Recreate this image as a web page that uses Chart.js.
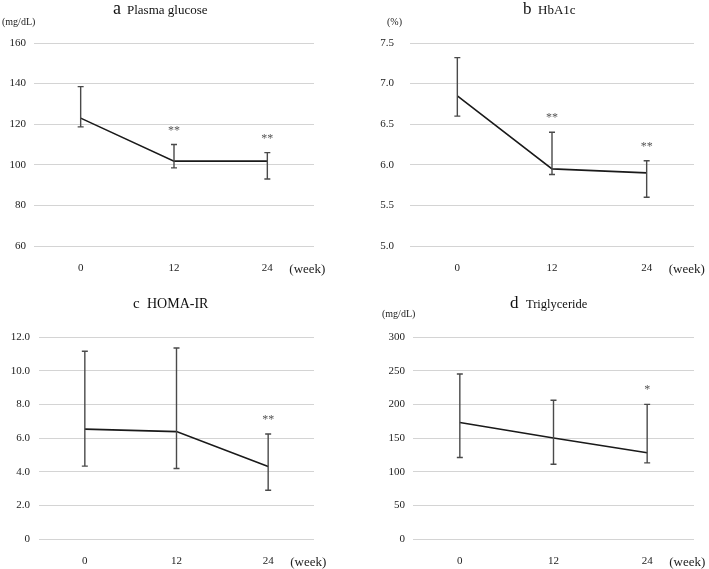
<!DOCTYPE html>
<html>
<head>
<meta charset="utf-8">
<script src="https://cdn.jsdelivr.net/npm/chart.js@4.4.1/dist/chart.umd.min.js"></script>
<style>
  body { margin: 0; background: #fff; }
  #wrap { position: relative; width: 709px; height: 569px; }
  canvas { position: absolute; }
</style>
</head>
<body>
<div id="wrap">
  <canvas id="cA" width="355" height="280" style="left:0;top:0"></canvas>
  <canvas id="cB" width="354" height="280" style="left:355px;top:0"></canvas>
  <canvas id="cC" width="355" height="289" style="left:0;top:280px"></canvas>
  <canvas id="cD" width="354" height="289" style="left:355px;top:280px"></canvas>
</div>
<script>
'use strict';

// weeks on the x axis
var weeks = ['0', '12', '24'];

// a Plasma glucose (mg/dL)
var glucoseMean = [123, 101.8, 101.8];
var glucoseUpper = [138.5, 110, 106];
var glucoseLower = [118.7, 98.5, 93];
var glucoseMarks = ['', '**', '**'];

// b HbA1c (%)
var hba1cMean = [6.85, 5.95, 5.90];
var hba1cUpper = [7.32, 6.40, 6.05];
var hba1cLower = [6.60, 5.88, 5.60];
var hba1cMarks = ['', '**', '**'];

// c HOMA-IR
var homaMean = [6.53, 6.38, 4.30];
var homaUpper = [11.15, 11.35, 6.24];
var homaLower = [4.33, 4.19, 2.90];
var homaMarks = ['', '', '**'];

// d Triglyceride (mg/dL)
var tgMean = [173, 150, 128];
var tgUpper = [245, 206, 200];
var tgLower = [121, 111, 113];
var tgMarks = ['', '', '*'];

var SERIF = '"Liberation Serif", "Times New Roman", serif';

// error bars, stars, titles and small labels
var panelPlugin = {
	id: 'panel',
	afterDatasetsDraw: function(chart, args, opts) {
		var ctx = chart.ctx, x = chart.scales.x, y = chart.scales.y;
		ctx.save();
		ctx.strokeStyle = '#4a4a4a';
		ctx.lineWidth = 1.4;
		opts.upper.forEach(function(u, i) {
			var px = x.getPixelForValue(i);
			var yt = y.getPixelForValue(u), yb = y.getPixelForValue(opts.lower[i]);
			ctx.beginPath();
			ctx.moveTo(px, yt); ctx.lineTo(px, yb);
			ctx.moveTo(px - 3, yt); ctx.lineTo(px + 3, yt);
			ctx.moveTo(px - 3, yb); ctx.lineTo(px + 3, yb);
			ctx.stroke();
			if (opts.marks[i]) {
				ctx.fillStyle = '#555';
				ctx.font = '12px ' + SERIF;
				ctx.textAlign = 'center';
				ctx.textBaseline = 'alphabetic';
				ctx.fillText(opts.marks[i], px, yt - 17 + 6);
			}
		});
		ctx.restore();
	},
	afterDraw: function(chart, args, opts) {
		var ctx = chart.ctx, x = chart.scales.x;
		ctx.save();
		ctx.fillStyle = '#111';
		ctx.textAlign = 'left';
		ctx.textBaseline = 'alphabetic';
		ctx.font = opts.letterSize + 'px ' + SERIF;
		ctx.fillText(opts.letter, opts.letterX, opts.titleY);
		ctx.font = opts.nameSize + 'px ' + SERIF;
		ctx.fillText(opts.name, opts.nameX, opts.titleY);
		if (opts.unit) {
			ctx.font = '10px ' + SERIF;
			ctx.textBaseline = 'middle';
			ctx.fillStyle = '#222';
			ctx.fillText(opts.unit, opts.unitX, opts.unitY);
		}
		ctx.font = '13px ' + SERIF;
		ctx.textBaseline = 'middle';
		ctx.fillStyle = '#222';
		ctx.fillText('(week)', x.getPixelForValue(2) + 22, x.top + opts.tickPad + 8);
		ctx.restore();
	}
};

function makePanel(id, mean, panel, yOpts, box) {
	var ctx = document.getElementById(id).getContext('2d');
	panel.tickPad = box.xPad;
	return new Chart(ctx, {
		type: 'line',
		data: {
			labels: weeks,
			datasets: [{
				data: mean,
				borderColor: '#1a1a1a',
				borderWidth: 1.6,
				pointRadius: 0,
				tension: 0,
				fill: false
			}]
		},
		options: {
			responsive: false,
			animation: false,
			layout: { padding: { top: box.top, right: box.right, left: 0, bottom: 0 } },
			plugins: {
				legend: { display: false },
				tooltip: { enabled: false },
				panel: panel
			},
			scales: {
				x: {
					offset: true,
					grid: { display: false, drawTicks: false },
					border: { display: false },
					ticks: { color: '#222', padding: box.xPad, font: { family: SERIF, size: 11 } },
					afterFit: function(s) { s.height = box.xHeight; }
				},
				y: {
					min: yOpts.min,
					max: yOpts.max,
					grid: { color: '#d4d4d4', drawTicks: false },
					border: { display: false },
					ticks: {
						stepSize: yOpts.step,
						color: '#222',
						padding: box.yPad,
						font: { family: SERIF, size: 11 },
						callback: yOpts.fmt
					},
					afterFit: function(s) { s.width = box.yWidth; }
				}
			}
		},
		plugins: [panelPlugin]
	});
}

makePanel('cA', glucoseMean,
	{ upper: glucoseUpper, lower: glucoseLower, marks: glucoseMarks,
	  letter: 'a', letterSize: 18, letterX: 113, name: 'Plasma glucose', nameSize: 13, nameX: 127, titleY: 14,
	  unit: '(mg/dL)', unitX: 2, unitY: 22 },
	{ min: 60, max: 160, step: 20, fmt: function(v) { return v; } },
	{ top: 43, right: 41, yWidth: 34, yPad: 8, xHeight: 34, xPad: 16 });

makePanel('cB', hba1cMean,
	{ upper: hba1cUpper, lower: hba1cLower, marks: hba1cMarks,
	  letter: 'b', letterSize: 17, letterX: 168, name: 'HbA1c', nameSize: 13, nameX: 183, titleY: 14,
	  unit: '(%)', unitX: 32, unitY: 22 },
	{ min: 5, max: 7.5, step: 0.5, fmt: function(v) { return v.toFixed(1); } },
	{ top: 43, right: 15, yWidth: 55, yPad: 16, xHeight: 34, xPad: 16 });

makePanel('cC', homaMean,
	{ upper: homaUpper, lower: homaLower, marks: homaMarks,
	  letter: 'c', letterSize: 15, letterX: 133, name: 'HOMA-IR', nameSize: 14, nameX: 147, titleY: 28,
	  unit: '' },
	{ min: 0, max: 12, step: 2, fmt: function(v) { return v === 0 ? '0' : v.toFixed(1); } },
	{ top: 57, right: 41, yWidth: 39, yPad: 9, xHeight: 30, xPad: 16 });

makePanel('cD', tgMean,
	{ upper: tgUpper, lower: tgLower, marks: tgMarks,
	  letter: 'd', letterSize: 17, letterX: 155, name: 'Triglyceride', nameSize: 12.5, nameX: 171, titleY: 28,
	  unit: '(mg/dL)', unitX: 27, unitY: 34 },
	{ min: 0, max: 300, step: 50, fmt: function(v) { return v; } },
	{ top: 57, right: 15, yWidth: 58, yPad: 8, xHeight: 30, xPad: 16 });
</script>
</body>
</html>
